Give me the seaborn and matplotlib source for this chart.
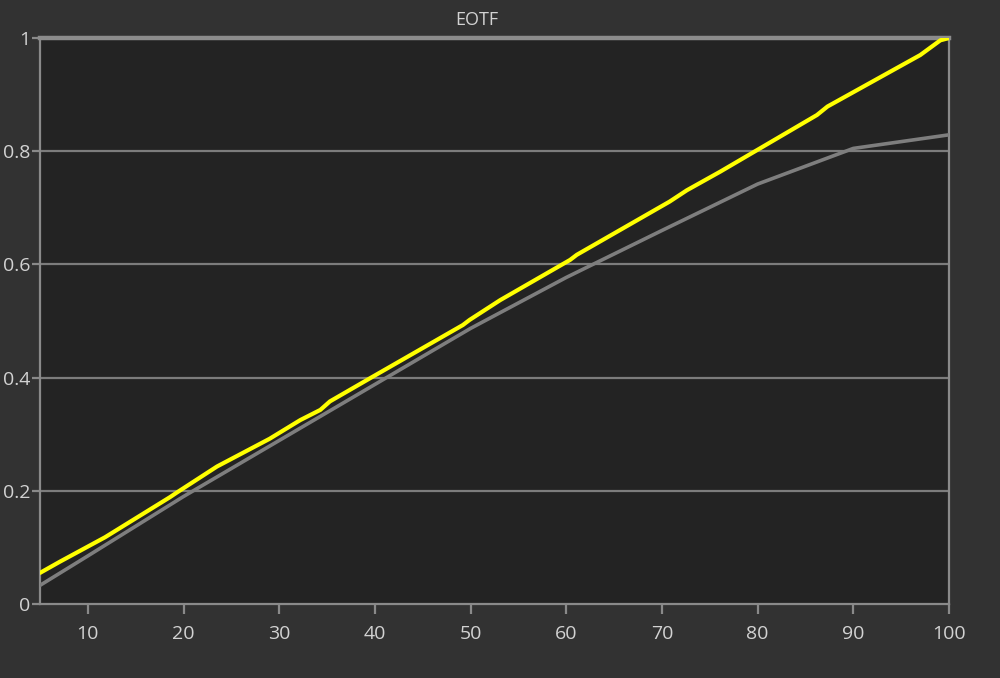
import matplotlib
matplotlib.use("Agg")
import matplotlib.pyplot as plt
import seaborn as sns
import pandas as pd

# Measured EOTF response (yellow) and reference target (gray)
measured_x = [5, 7.1, 11.8, 18.6, 19.3, 23.5, 29, 32.2, 34.3, 35.3, 39.5, 49.2, 49.9,
              53.1, 60.4, 61.1, 70.8, 72.6, 76.1, 86.2, 87.3, 97.0, 99.1, 100]
measured_y = [0.055, 0.075, 0.118, 0.189, 0.197, 0.243, 0.292, 0.325, 0.343, 0.358, 0.399,
              0.493, 0.502, 0.537, 0.608, 0.617, 0.711, 0.731, 0.764, 0.864, 0.879, 0.970,
              0.996, 1.0]

target_x = [5, 10, 20, 30, 40, 50, 60, 70, 80, 90, 100]
target_y = [0.033, 0.085, 0.190, 0.289, 0.388, 0.487, 0.577, 0.660, 0.742, 0.805, 0.829]

x_ticks = [10, 20, 30, 40, 50, 60, 70, 80, 90, 100]
y_ticks = [0, 0.2, 0.4, 0.6, 0.8, 1]
y_tick_labels = ["0", "0.2", "0.4", "0.6", "0.8", "1"]

sns.set_style("dark")
plt.rcParams["font.family"] = ["Open Sans", "DejaVu Sans"]

fig_bg = "#323232"
ax_bg = "#232323"
frame = "#8a8a8a"
text_c = "#d2d2d2"

fig = plt.figure(figsize=(10, 6.78), dpi=100, facecolor=fig_bg)
ax = fig.add_axes([0.040, 0.1091, 0.909, 0.8348], facecolor=ax_bg)

measured = pd.DataFrame({"x": measured_x, "y": measured_y})
target = pd.DataFrame({"x": target_x, "y": target_y})

for v in y_ticks[1:-1]:
    ax.axhline(v, color="#7c7c7c", lw=1.6, zorder=1)

sns.lineplot(data=target, x="x", y="y", ax=ax, color="#7e7e7e", lw=2.6, zorder=3)
sns.lineplot(data=measured, x="x", y="y", ax=ax, color="#ffff00", lw=3.0, zorder=4)

ax.set_xlim(5, 100)
ax.set_ylim(0, 1)
ax.set_xticks(x_ticks)
ax.set_yticks(y_ticks)
ax.set_yticklabels(y_tick_labels)
ax.set_xlabel("")
ax.set_ylabel("")
ax.grid(False)

for side in ["left", "right", "bottom"]:
    ax.spines[side].set_visible(True)
    ax.spines[side].set_color(frame)
    ax.spines[side].set_linewidth(1.6)
ax.spines["top"].set_visible(True)
ax.spines["top"].set_color("#8c8c8c")
ax.spines["top"].set_linewidth(3.2)

ax.tick_params(axis="x", colors=frame, labelcolor=text_c, labelsize=14,
               length=7, width=1.6, direction="out", bottom=True, pad=8)
ax.tick_params(axis="y", colors=frame, labelcolor=text_c, labelsize=14,
               length=6, width=1.6, direction="out", left=True, pad=1)

fig.text(0.477, 0.971, "EOTF", color=text_c, fontsize=13, ha="center", va="center")

fig.savefig("out.png", dpi=100, facecolor=fig_bg)
